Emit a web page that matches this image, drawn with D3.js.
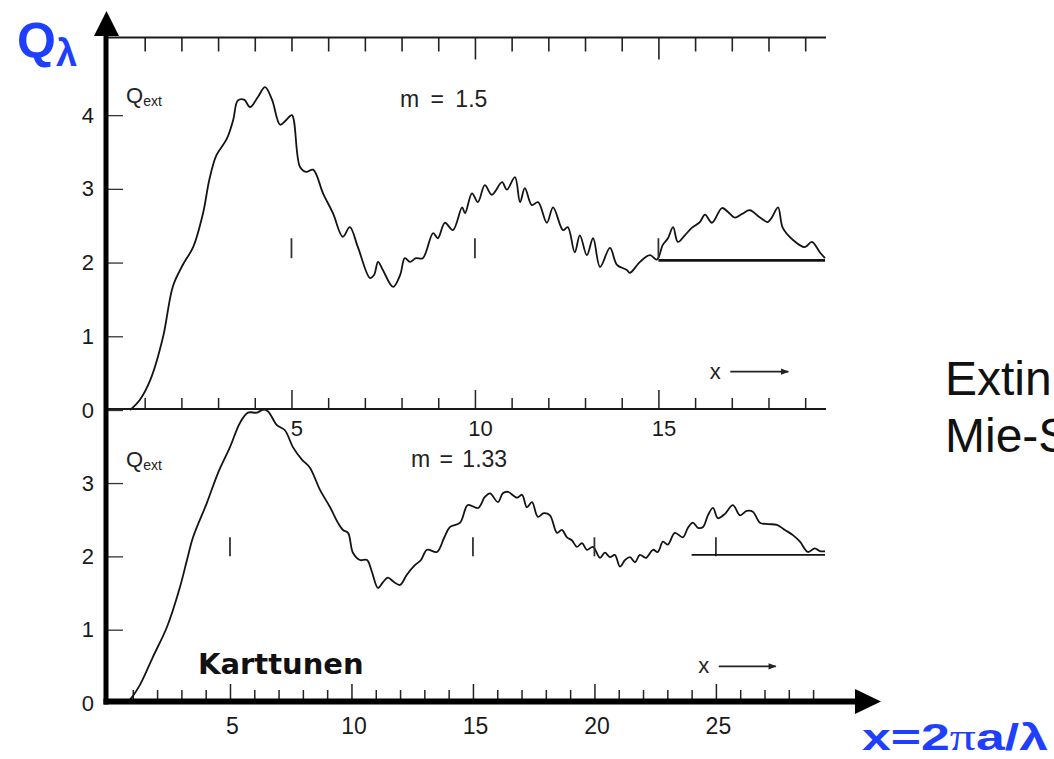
<!DOCTYPE html>
<html>
<head>
<meta charset="utf-8">
<script src="https://cdn.jsdelivr.net/npm/d3@7"></script>
<style>
  html, body { margin: 0; padding: 0; background: #fff; }
  svg { display: block; }
  .tick text { font-family: "Liberation Sans", Arial, sans-serif; fill: #1a1a1a; }
</style>
</head>
<body>
<svg id="chart" width="1054" height="759"></svg>
<script>
// Extinction efficiency Q_ext versus size parameter x, two refractive indices
const seriesM15 = [
  [0.60,0.00],[0.87,0.14],[1.17,0.43],[1.50,0.99],[1.77,1.68],[2.04,1.97],[2.32,2.21],[2.59,2.67],
  [2.76,3.12],[2.95,3.45],[3.24,3.68],[3.41,3.93],[3.54,4.20],[3.71,4.21],[3.87,4.11],[4.09,4.25],
  [4.28,4.38],[4.47,4.21],[4.69,3.87],[4.85,3.93],[5.01,4.00],[5.23,3.30],[5.40,3.23],[5.59,3.26],
  [5.86,2.94],[6.13,2.67],[6.40,2.35],[6.59,2.48],[6.81,2.21],[7.14,1.79],[7.25,1.83],[7.36,2.01],
  [7.49,1.90],[7.77,1.67],[7.96,1.83],[8.09,2.06],[8.23,2.01],[8.39,2.06],[8.58,2.06],[8.86,2.40],
  [8.99,2.33],[9.18,2.54],[9.40,2.44],[9.65,2.75],[9.73,2.67],[9.92,2.94],[10.08,2.82],[10.27,3.05],
  [10.46,2.92],[10.74,3.09],[10.87,2.99],[11.09,3.16],[11.23,2.82],[11.36,3.01],[11.55,2.78],[11.72,2.82],
  [11.96,2.54],[12.13,2.75],[12.40,2.44],[12.53,2.48],[12.72,2.14],[12.86,2.37],[13.05,2.10],[13.22,2.33],
  [13.41,1.94],[13.68,2.20],[13.87,1.97],[14.14,1.90],[14.22,1.86],[14.50,2.01],[14.77,2.10],[14.96,2.04],
  [15.12,2.24],[15.26,2.33],[15.40,2.48],[15.53,2.28],[15.72,2.37],[15.91,2.47],[16.13,2.55],[16.27,2.65],
  [16.46,2.54],[16.73,2.74],[16.89,2.69],[17.08,2.61],[17.28,2.66],[17.49,2.71],[17.77,2.61],[17.98,2.55],
  [18.09,2.61],[18.26,2.75],[18.39,2.47],[18.66,2.31],[18.99,2.21],[19.18,2.28],[19.40,2.14],[19.54,2.06]
];

const seriesM133 = [
  [0.76,0.00],[0.97,0.08],[1.30,0.25],[1.83,0.63],[2.41,1.04],[2.94,1.58],[3.23,1.95],[3.48,2.26],
  [4.05,2.73],[4.51,3.14],[5.00,3.49],[5.41,3.82],[5.74,3.96],[6.11,3.96],[6.36,4.00],[6.56,3.98],
  [6.93,3.79],[7.26,3.72],[7.59,3.49],[7.96,3.32],[8.29,3.21],[8.70,2.91],[9.12,2.67],[9.44,2.46],
  [9.65,2.36],[9.86,2.32],[10.06,2.05],[10.35,1.95],[10.64,1.95],[10.84,1.79],[11.09,1.57],[11.30,1.65],
  [11.50,1.71],[11.75,1.65],[12.00,1.61],[12.28,1.75],[12.61,1.88],[12.86,1.95],[13.11,2.09],[13.52,2.06],
  [13.81,2.25],[14.05,2.40],[14.47,2.46],[14.79,2.70],[15.21,2.66],[15.49,2.81],[15.70,2.86],[16.03,2.74],
  [16.23,2.86],[16.44,2.88],[16.81,2.80],[17.02,2.84],[17.22,2.67],[17.43,2.74],[17.67,2.54],[17.92,2.59],
  [18.17,2.56],[18.46,2.32],[18.66,2.36],[18.87,2.26],[19.07,2.22],[19.28,2.13],[19.49,2.18],[19.69,2.09],
  [19.94,2.13],[20.23,1.98],[20.43,2.05],[20.64,1.99],[20.84,2.02],[21.05,1.86],[21.26,1.95],[21.46,1.99],
  [21.67,1.92],[21.87,2.02],[22.12,1.98],[22.41,2.09],[22.61,2.06],[22.82,2.20],[23.02,2.16],[23.31,2.32],
  [23.64,2.26],[23.85,2.39],[24.05,2.46],[24.26,2.39],[24.47,2.40],[24.67,2.56],[24.88,2.66],[25.08,2.52],
  [25.37,2.58],[25.70,2.70],[25.99,2.56],[26.27,2.62],[26.52,2.61],[26.81,2.46],[27.14,2.44],[27.51,2.43],
  [27.84,2.36],[28.17,2.29],[28.46,2.20],[28.79,2.06],[29.07,2.11],[29.28,2.07],[29.49,2.07]
];

// axis ticks and labels
const topYTicks = [0, 1, 2, 3, 4];
const botYTicks = [0, 1, 2, 3];
const topXTicks = d3.range(1, 20);
const topXLabels = [5, 10, 15, 20];
const botXTicks = d3.range(1, 30);
const botXLabels = [5, 10, 15, 20, 25];

// short vertical markers and the asymptote line Q = 2
const topMarks = [5, 10, 15];
const botMarks = [5, 15, 20, 25];
const topAsymptote = { from: 15, q: 2.03 };
const botAsymptote = { from: 24, q: 2.02 };

const topTitle = "m = 1.5";
const botTitle = "m = 1.33";

const svg = d3.select("#chart");
const blue = "#1f3fff";
const ink = "#141414";
const plotRight = 825;
const sans = "Liberation Sans, Arial, sans-serif";
const intFmt = d3.format("d");

// scales: upper panel (m = 1.5) and lower panel (m = 1.33)
const xTop = d3.scaleLinear().domain([0, 19.54]).range([108, plotRight]);
const yTop = d3.scaleLinear().domain([0, 5.06]).range([410, 37]);
const xBot = d3.scaleLinear().domain([0, 29.49]).range([108.5, plotRight]);
const yBot = d3.scaleLinear().domain([0, 4.01]).range([703, 409]);

const defs = svg.append("defs");
defs.append("clipPath").attr("id", "plotClip")
  .append("rect").attr("x", 100).attr("y", 0).attr("width", plotRight + 1 - 100).attr("height", 759);

const plot = svg.append("g").attr("clip-path", "url(#plotClip)");

// ---- upper panel axes ----
const topLeft = svg.append("g").attr("transform", "translate(108,0)")
  .call(d3.axisLeft(yTop).tickValues(topYTicks).tickFormat(intFmt).tickSize(-15).tickPadding(14));
topLeft.select(".domain").remove();
topLeft.selectAll(".tick line").attr("stroke", "#333").attr("stroke-width", 1.3);
topLeft.selectAll(".tick text").style("font-size", "22px");

const topFrame = plot.append("g").attr("transform", "translate(0,37.5)")
  .call(d3.axisTop(xTop).tickValues(topXTicks).tickSize(-14).tickFormat(""));
topFrame.select(".domain").remove();
topFrame.selectAll(".tick line")
  .attr("stroke", "#222").attr("stroke-width", 1.6)
  .attr("y2", d => (d % 5 === 0 && d !== 5 ? 22 : 14));

const midAxis = plot.append("g").attr("transform", "translate(0,409)")
  .call(d3.axisBottom(xTop).tickValues(topXTicks).tickSize(-11).tickPadding(11)
    .tickFormat(d => (topXLabels.includes(d) ? d : "")));
midAxis.select(".domain").remove();
midAxis.selectAll(".tick line")
  .attr("stroke", "#222").attr("stroke-width", 1.5)
  .attr("y2", d => (d % 5 === 0 ? -19 : -11));
midAxis.selectAll(".tick text").attr("dx", 5).style("font-size", "22px");

// ---- lower panel axes ----
const botLeft = svg.append("g").attr("transform", "translate(108,0)")
  .call(d3.axisLeft(yBot).tickValues(botYTicks).tickFormat(intFmt).tickSize(-15).tickPadding(14));
botLeft.select(".domain").remove();
botLeft.selectAll(".tick line").attr("stroke", "#333").attr("stroke-width", 1.3)
  .attr("display", d => (d === 0 ? "none" : null));
botLeft.selectAll(".tick text").style("font-size", "22px");

const botAxis = plot.append("g").attr("transform", "translate(0,699)")
  .call(d3.axisBottom(xBot).tickValues(botXTicks).tickSize(-9).tickPadding(19)
    .tickFormat(d => (botXLabels.includes(d) ? d : "")));
botAxis.select(".domain").remove();
botAxis.selectAll(".tick line")
  .attr("stroke", "#222").attr("stroke-width", 1.5)
  .attr("y2", d => (d % 5 === 0 ? -15 : -9));
botAxis.selectAll(".tick text").attr("dx", 2).style("font-size", "23px");

// frame lines of the upper panel
plot.append("line").attr("x1", 108).attr("x2", plotRight + 1)
  .attr("y1", 37.5).attr("y2", 37.5).attr("stroke", "#1a1a1a").attr("stroke-width", 2.2);
plot.append("line").attr("x1", 108).attr("x2", plotRight + 1)
  .attr("y1", 409).attr("y2", 409).attr("stroke", "#1a1a1a").attr("stroke-width", 1.8);

// ---- curves ----
const lineTop = d3.line().x(d => xTop(d[0])).y(d => yTop(d[1])).curve(d3.curveCatmullRom.alpha(0.5));
const lineBot = d3.line().x(d => xBot(d[0])).y(d => yBot(d[1])).curve(d3.curveCatmullRom.alpha(0.5));

plot.append("path").datum(seriesM15).attr("d", lineTop)
  .attr("fill", "none").attr("stroke", ink).attr("stroke-width", 1.8).attr("stroke-linejoin", "round");
plot.append("path").datum(seriesM133).attr("d", lineBot)
  .attr("fill", "none").attr("stroke", ink).attr("stroke-width", 1.8).attr("stroke-linejoin", "round");

// markers and asymptote lines
plot.selectAll(".topMark").data(topMarks).join("line")
  .attr("x1", d => xTop(d)).attr("x2", d => xTop(d))
  .attr("y1", yTop(2.06)).attr("y2", yTop(2.33))
  .attr("stroke", "#333").attr("stroke-width", 1.8);
plot.append("line")
  .attr("x1", xTop(topAsymptote.from)).attr("x2", xTop.range()[1])
  .attr("y1", yTop(topAsymptote.q)).attr("y2", yTop(topAsymptote.q))
  .attr("stroke", ink).attr("stroke-width", 2.6);

plot.selectAll(".botMark").data(botMarks).join("line")
  .attr("x1", d => xBot(d)).attr("x2", d => xBot(d))
  .attr("y1", yBot(2.0)).attr("y2", yBot(2.26))
  .attr("stroke", "#333").attr("stroke-width", 1.8);
plot.append("line")
  .attr("x1", xBot(botAsymptote.from)).attr("x2", xBot.range()[1])
  .attr("y1", yBot(botAsymptote.q)).attr("y2", yBot(botAsymptote.q))
  .attr("stroke", ink).attr("stroke-width", 1.9);

// ---- panel annotations ----
function qext(x, y) {
  const t = svg.append("text").attr("x", x).attr("y", y)
    .attr("font-family", sans).attr("fill", "#222");
  t.append("tspan").attr("font-size", 22).text("Q");
  t.append("tspan").attr("font-size", 14).attr("dy", 3).text("ext");
}
qext(126, 103);
qext(126, 467);

svg.append("text").attr("x", 400).attr("y", 107).attr("font-size", 23)
  .attr("font-family", sans).attr("fill", "#222")
  .attr("word-spacing", 5).text(topTitle);
svg.append("text").attr("x", 411).attr("y", 467).attr("font-size", 23)
  .attr("font-family", sans).attr("fill", "#222")
  .attr("word-spacing", 3).text(botTitle);

// "x ->" direction hints
defs.append("marker").attr("id", "smallHead").attr("viewBox", "0 0 10 10")
  .attr("refX", 9).attr("refY", 5).attr("markerWidth", 12).attr("markerHeight", 8)
  .attr("markerUnits", "userSpaceOnUse").attr("orient", "auto")
  .append("path").attr("d", "M0,1 L10,5 L0,9 Z").attr("fill", "#222");

function xHint(x, y, len) {
  svg.append("text").attr("x", x).attr("y", y + 7).attr("font-size", 22)
    .attr("text-anchor", "middle")
    .attr("font-family", sans).attr("fill", "#222").text("x");
  svg.append("line").attr("x1", x + 15).attr("x2", x + 15 + len).attr("y1", y).attr("y2", y)
    .attr("stroke", "#222").attr("stroke-width", 1.6).attr("marker-end", "url(#smallHead)");
}
xHint(xTop(16.55), yTop(0.52), 58);
xHint(xBot(24.5), yBot(0.50), 57);

svg.append("text").attr("x", 198).attr("y", 674)
  .attr("font-family", "DejaVu Sans, sans-serif").attr("font-weight", "bold")
  .attr("font-size", 29).attr("fill", "#111").text("Karttunen");

// ---- main axes with arrows ----
svg.append("line").attr("x1", 106).attr("x2", 106).attr("y1", 704.5).attr("y2", 30)
  .attr("stroke", "#000").attr("stroke-width", 5);
svg.append("path").attr("d", d3.line()([[94, 36], [106.5, 11], [119, 36]]) + "Z").attr("fill", "#000");

svg.append("line").attr("x1", 103.5).attr("x2", 862).attr("y1", 701.5).attr("y2", 701.5)
  .attr("stroke", "#000").attr("stroke-width", 6);
svg.append("path").attr("d", d3.line()([[855, 689], [881, 701.5], [855, 714]]) + "Z").attr("fill", "#000");

// ---- axis titles ----
const qLab = svg.append("text").attr("x", 17).attr("y", 58)
  .attr("font-family", sans).attr("font-weight", "bold").attr("fill", blue);
qLab.append("tspan").attr("font-size", 50).text("Q");
qLab.append("tspan").attr("font-size", 38).attr("dy", 8).text("λ");

const xLab = svg.append("text").attr("x", 862).attr("y", 750)
  .attr("font-family", sans).attr("font-weight", "bold")
  .attr("font-size", 37).attr("fill", blue)
  .attr("textLength", 186).attr("lengthAdjust", "spacingAndGlyphs");
xLab.append("tspan").text("x=2");
xLab.append("tspan").attr("font-family", "Liberation Serif, serif").attr("font-weight", "normal").text("π");
xLab.append("tspan").text("a/λ");

// side caption, running off the right edge
svg.append("text").attr("x", 945).attr("y", 395)
  .attr("font-family", sans).attr("font-weight", 300)
  .attr("font-size", 48).attr("fill", "#111").text("Extinktion");
svg.append("text").attr("x", 945).attr("y", 452)
  .attr("font-family", sans).attr("font-weight", 300)
  .attr("font-size", 48).attr("fill", "#111").text("Mie-Streuung");
</script>
</body>
</html>
